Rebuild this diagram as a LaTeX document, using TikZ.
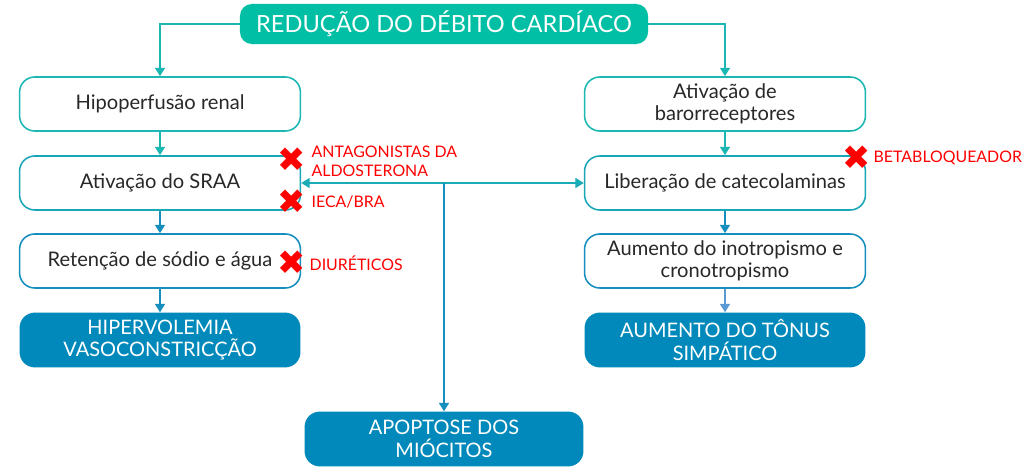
\documentclass[tikz,border=0pt]{standalone}
\usepackage{fontspec}
\setmainfont{Lato}
\newfontfamily\symfont{DejaVu Sans}
\usetikzlibrary{arrows.meta,positioning}

\definecolor{tealtop}{RGB}{0,191,165}
\definecolor{tealline}{RGB}{27,183,178}
\definecolor{blueline}{RGB}{22,143,190}
\definecolor{bluebox}{RGB}{0,137,186}
\definecolor{lightarrow}{RGB}{91,155,213}
\definecolor{textgray}{RGB}{40,40,40}

\tikzset{
  stepbox/.style={draw=tealline, line width=1.1pt, fill=white, rounded corners=0.38cm,
    minimum width=7.02cm, minimum height=1.35cm, align=center,
    font=\fontsize{14.3}{15.8}\selectfont, text=textgray},
  endbox/.style={fill=bluebox, rounded corners=0.38cm, minimum width=7.02cm,
    minimum height=1.37cm, align=center, text=white,
    font=\fontsize{14.2}{16.2}\selectfont},
  redlabel/.style={text=red, anchor=west, align=left, inner sep=1pt,
    font=\fontsize{11.3}{13.6}\selectfont},
  crossmark/.style={text=red, inner sep=0pt, font=\symfont\fontsize{24}{24}\selectfont},
  link/.style={line width=1.4pt, -{Triangle[width=7pt,length=6pt]}}
}

\begin{document}
\begin{tikzpicture}[x=0.025cm, y=-0.025cm]
    \useasboundingbox (0,0) rectangle (1024,472);

    % Title
    \node[fill=tealtop, rounded corners=0.3cm, minimum width=10.2cm, minimum height=1cm,
      text=white, font=\fontsize{16.8}{18}\selectfont] (title) at (444,24) {REDUÇÃO DO DÉBITO CARDÍACO};

    % Left column
    \node[stepbox] (renal) at (160,104) {Hipoperfusão renal};
    \node[stepbox, draw=tealline!60!blueline] (sraa) at (160,183) {Ativação do SRAA};
    \node[stepbox, draw=blueline] (sodio) at (160,261) {Retenção de sódio e água};
    \node[endbox] (hiper) at (160,340) {HIPERVOLEMIA\\VASOCONSTRICÇÃO};

    % Right column
    \node[stepbox] (baro) at (725,104) {Ativação de\\barorreceptores};
    \node[stepbox, draw=tealline!60!blueline] (cateco) at (725,183) {Liberação de catecolaminas};
    \node[stepbox, draw=blueline] (inotro) at (725,261) {Aumento do inotropismo e\\cronotropismo};
    \node[endbox] (tonus) at (725,340) {AUMENTO DO TÔNUS\\SIMPÁTICO};

    % Middle
    \node[endbox, minimum width=6.97cm] (apop) at (444,439) {APOPTOSE DOS\\MIÓCITOS};

    % Connectors
    \draw[link, tealline] (title.west) -| (renal.north);
    \draw[link, tealline] (title.east) -| (baro.north);
    \draw[link, tealline] (renal) -- (sraa);
    \draw[link, tealline] (baro) -- (cateco);
    \draw[link, blueline] (sraa) -- (sodio);
    \draw[link, blueline] (cateco) -- (inotro);
    \draw[link, blueline] (sodio) -- (hiper);
    \draw[link, lightarrow] (inotro) -- (tonus);
    \coordinate (hub) at (444,183);
    \draw[link, tealline!70!blueline] (hub) -- (sraa.east);
    \draw[link, tealline!70!blueline] (hub) -- (cateco.west);
    \draw[link, blueline] (hub) -- (apop.north);

    % Drug blocks
    \node[crossmark] (xaldo) at (292,160) {✖};
    \node[crossmark] (xieca) at (292,202) {✖};
    \node[crossmark] (xdiur) at (292,263) {✖};
    \node[crossmark] (xbeta) at (857,158) {✖};
    \node[redlabel] (aldo) at (310,161) {ANTAGONISTAS DA\\ALDOSTERONA};
    \node[redlabel] (ieca) at (310,202) {IECA/BRA};
    \node[redlabel] (diur) at (308,263) {DIURÉTICOS};
    \node[redlabel] (beta) at (872,158) {BETABLOQUEADOR};
\end{tikzpicture}
\end{document}
